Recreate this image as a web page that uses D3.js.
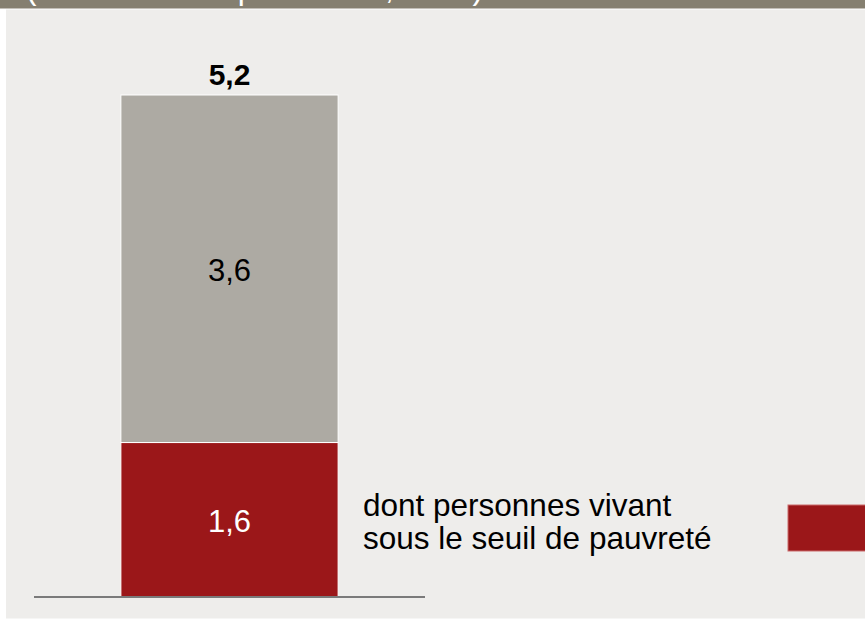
<!DOCTYPE html>
<html>
<head>
<meta charset="utf-8">
<script src="https://cdn.jsdelivr.net/npm/d3@7"></script>
<style>
  html, body { margin: 0; padding: 0; background: #ffffff; }
  svg { display: block; font-family: Arial, "Liberation Sans", sans-serif; }
</style>
</head>
<body>
<svg id="chart" width="865" height="619"></svg>
<script>
// ---- data ----
const categories = ["Total"];
const seriesNames = ["dont personnes vivant sous le seuil de pauvreté", "autres"];
const poorValues = [1.6];
const otherValues = [3.6];
const totalValues = [5.2];
const headerText = "(en millions de personnes, 2012)";
const legendLines = ["dont personnes vivant", "sous le seuil de pauvreté"];

const fmt = v => d3.format(".1f")(v).replace(".", ",");

const svg = d3.select("#chart");
const W = 865, H = 619;

// background panel + header band (title text runs above the visible area)
svg.append("rect").attr("x", 6).attr("y", 9.5).attr("width", W - 6).attr("height", 609)
  .attr("fill", "#EEEDEB");
svg.append("rect").attr("x", 0).attr("y", 0).attr("width", W).attr("height", 8.5)
  .attr("fill", "#857F70");
svg.append("text").attr("x", 26).attr("y", -1)
  .attr("fill", "#ffffff").attr("font-size", 31.5)
  .text(headerText);

// scales
const x = d3.scaleBand().domain(categories).range([34, 425]).paddingInner(0).paddingOuter(0.4);
const y = d3.scaleLinear().domain([0, 5.2]).range([597, 95]);

const rows = categories.map((c, i) => ({
  cat: c, poor: poorValues[i], other: otherValues[i], total: totalValues[i]
}));
const stack = d3.stack().keys(["poor", "other"])(rows);
const colors = { poor: "#9B1719", other: "#ADAAA3" };
const labelColors = { poor: "#ffffff", other: "#000000" };

const g = svg.append("g");
stack.forEach(layer => {
  g.selectAll(null).data(layer).enter().append("rect")
    .attr("x", d => x(d.data.cat))
    .attr("y", d => y(d[1]))
    .attr("width", x.bandwidth())
    .attr("height", d => y(d[0]) - y(d[1]))
    .attr("fill", colors[layer.key])
    .attr("stroke", "#ffffff").attr("stroke-width", 1);
  g.selectAll(null).data(layer).enter().append("text")
    .attr("x", d => x(d.data.cat) + x.bandwidth() / 2)
    .attr("y", d => (y(d[0]) + y(d[1])) / 2)
    .attr("dy", "0.4em")
    .attr("text-anchor", "middle")
    .attr("font-size", 31)
    .attr("fill", labelColors[layer.key])
    .text(d => fmt(d[1] - d[0]));
});

// totals
g.selectAll(null).data(rows).enter().append("text")
  .attr("x", d => x(d.cat) + x.bandwidth() / 2)
  .attr("y", d => y(d.total) - 10)
  .attr("text-anchor", "middle")
  .attr("font-size", 30).attr("font-weight", "bold").attr("fill", "#000")
  .text(d => fmt(d.total));

// baseline
svg.append("line").attr("x1", 34).attr("x2", 425)
  .attr("y1", y(0)).attr("y2", y(0))
  .attr("stroke", "#7A7A7A").attr("stroke-width", 2);

// annotation next to red segment
const ann = svg.append("text").attr("x", 363).attr("y", 516)
  .attr("font-size", 31.5).attr("fill", "#000");
legendLines.forEach((l, i) => {
  ann.append("tspan").attr("x", 363).attr("dy", i === 0 ? 0 : 33).text(l);
});

// legend swatch (cut by right edge)
svg.append("rect").attr("x", 788).attr("y", 505).attr("width", 90).attr("height", 46)
  .attr("fill", colors.poor).attr("stroke", "#C96A6B").attr("stroke-width", 1);
</script>
</body>
</html>
